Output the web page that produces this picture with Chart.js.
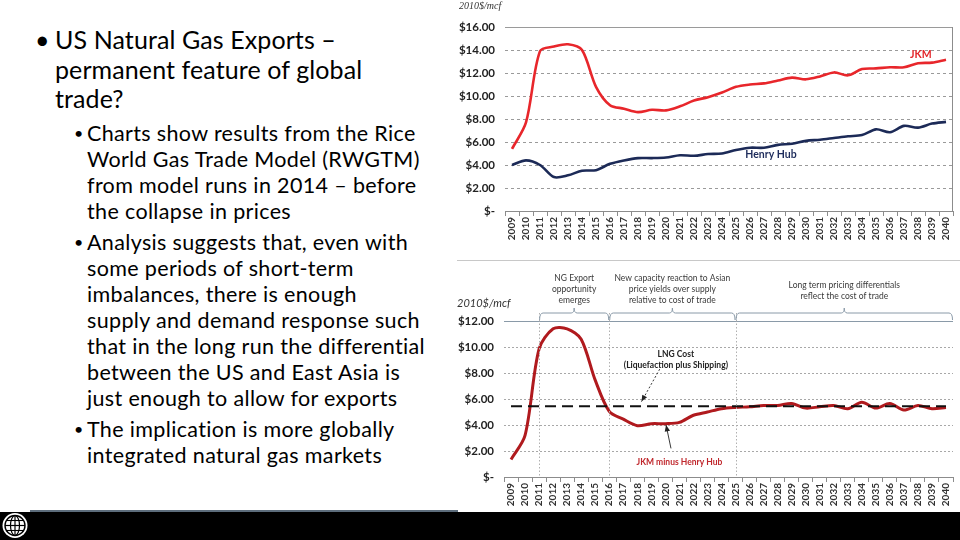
<!DOCTYPE html>
<html><head><meta charset="utf-8">
<script src="https://cdn.jsdelivr.net/npm/chart.js@4/dist/chart.umd.min.js"></script>
<style>
body{margin:0;width:960px;height:540px;background:#fff;position:relative;overflow:hidden;font-family:Lato,"Open Sans",sans-serif;color:#000}
.blk{position:absolute;white-space:nowrap}
.blk .b{position:absolute}
.t1{font-size:25px;line-height:29.5px;left:55px;letter-spacing:0.1px}
.t1 .b{left:-20px}
.t2{font-size:21.5px;line-height:26px;left:87px;letter-spacing:0.35px}
.t2 .b{left:-13px;font-size:16px}
canvas{position:absolute}
#topC{left:455px;top:0}
#botC{left:455px;top:255px}
.ytitle{position:absolute;font-style:italic;color:#333}
#sep{position:absolute;left:457px;top:260px;width:503px;height:1px;background:#c8c8c8}
#bar{position:absolute;left:0;top:512px;width:960px;height:28px;background:#000}
#barline{position:absolute;left:30px;top:510px;width:428px;height:2px;background:#5d6d7c}
#logo{position:absolute;left:1px;top:512px}
</style></head>
<body>
<div class="blk t1" style="top:25px"><span class="b">•</span>US Natural Gas Exports –<br>permanent feature of global<br>trade?</div>
<div class="blk t2" style="top:120px"><span class="b">•</span>Charts show results from the Rice<br>World Gas Trade Model (RWGTM)<br>from model runs in 2014 – before<br>the collapse in prices</div>
<div class="blk t2" style="top:229px"><span class="b">•</span>Analysis suggests that, even with<br>some periods of short-term<br>imbalances, there is enough<br>supply and demand response such<br>that in the long run the differential<br>between the US and East Asia is<br>just enough to allow for exports</div>
<div class="blk t2" style="top:416px"><span class="b">•</span>The implication is more globally<br>integrated natural gas markets</div>

<canvas id="topC" width="505" height="245"></canvas>
<div id="sep"></div>
<canvas id="botC" width="505" height="255"></canvas>
<div class="ytitle" style="left:459px;top:0px;font-size:10px;font-family:'Liberation Serif',serif">2010$/mcf</div>
<div class="ytitle" style="left:457px;top:296px;font-size:11px">2010$/mcf</div>

<div id="barline"></div>
<div id="bar"></div>
<svg id="logo" width="30" height="28" viewBox="0 0 30 28">
 <circle cx="14" cy="13.5" r="12.5" fill="#fff"/>
 <circle cx="14" cy="13.5" r="10" fill="none" stroke="#000" stroke-width="1.4"/>
 <ellipse cx="14" cy="13.5" rx="4.5" ry="10" fill="none" stroke="#000" stroke-width="1.2"/>
 <line x1="14" y1="3.5" x2="14" y2="23.5" stroke="#000" stroke-width="1.2"/>
 <line x1="4" y1="13.5" x2="24" y2="13.5" stroke="#000" stroke-width="1.2"/>
 <line x1="5.5" y1="8.5" x2="22.5" y2="8.5" stroke="#000" stroke-width="1.1"/>
 <line x1="5.5" y1="18.5" x2="22.5" y2="18.5" stroke="#000" stroke-width="1.1"/>
</svg>

<script>
const years = ['2009','2010','2011','2012','2013','2014','2015','2016','2017','2018','2019','2020','2021','2022','2023','2024','2025','2026','2027','2028','2029','2030','2031','2032','2033','2034','2035','2036','2037','2038','2039','2040'];
const jkmPrice = [5.4,7.7,13.9,14.3,14.5,14.0,10.8,9.2,8.9,8.6,8.8,8.75,9.1,9.6,9.9,10.3,10.8,11.0,11.1,11.35,11.6,11.45,11.7,12.05,11.8,12.35,12.4,12.5,12.5,12.85,12.9,13.15];
const henryHubPrice = [4.0,4.4,4.0,2.95,3.1,3.5,3.55,4.1,4.4,4.6,4.6,4.65,4.85,4.8,4.95,5.0,5.3,5.5,5.5,5.75,5.85,6.1,6.2,6.35,6.5,6.6,7.1,6.85,7.4,7.25,7.6,7.75];
const jkmMinusHH = [1.35,3.2,9.85,11.4,11.4,10.6,7.45,5.05,4.45,3.95,4.1,4.1,4.2,4.75,5.0,5.25,5.35,5.4,5.5,5.5,5.65,5.3,5.4,5.5,5.25,5.75,5.3,5.65,5.15,5.5,5.25,5.35];
const lngCost = 5.45;
const topTickLabels = ['$-','$2.00','$4.00','$6.00','$8.00','$10.00','$12.00','$14.00','$16.00'];
const botTickLabels = ['$-','$2.00','$4.00','$6.00','$8.00','$10.00','$12.00'];
const phaseStarts = ['2011','2016','2025'];
const phaseTexts = [['NG Export','opportunity','emerges'],['New capacity reaction to Asian','price yields over supply','relative to cost of trade'],['Long term pricing differentials','reflect the cost of trade']];

const lngCostSeries = years.map(() => lngCost);

function arrow(ctx, x1, y1, x2, y2, dash){
  ctx.save();
  ctx.strokeStyle = '#222'; ctx.fillStyle = '#222'; ctx.lineWidth = 0.9;
  ctx.setLineDash(dash || []);
  ctx.beginPath(); ctx.moveTo(x1,y1); ctx.lineTo(x2,y2); ctx.stroke();
  ctx.setLineDash([]);
  const a = Math.atan2(y2-y1, x2-x1), L = 7, w = 0.4;
  ctx.beginPath(); ctx.moveTo(x2,y2);
  ctx.lineTo(x2 - L*Math.cos(a-w), y2 - L*Math.sin(a-w));
  ctx.lineTo(x2 - L*Math.cos(a+w), y2 - L*Math.sin(a+w));
  ctx.closePath(); ctx.fill();
  ctx.restore();
}

function baseOptions(yMax, labels, yWidth, xHeight, padTop){
  return {
    responsive:false, animation:false, devicePixelRatio:1,
    layout:{padding:{top:padTop, right:7, left:0, bottom:0}},
    plugins:{legend:{display:false}, tooltip:{enabled:false}},
    elements:{point:{radius:0}},
    scales:{
      x:{
        offset:true,
        grid:{display:true, drawOnChartArea:false, drawTicks:true, tickLength:5, offset:true, color:'#8c8c8c'},
        border:{display:true, color:'#8c8c8c', width:1},
        ticks:{minRotation:90, maxRotation:90, autoSkip:false, padding:1, color:'#333', font:{family:'Lato', size:10, weight:'bold'}},
        afterFit: s => { s.height = xHeight; }
      },
      y:{
        min:0, max:yMax,
        border:{display:false, dash:[3,3]},
        grid:{color:'#9a9a9a', drawTicks:false, lineWidth:1},
        ticks:{stepSize:2, padding:10, color:'#222', font:{family:'Lato', size:11.5, weight:'bold'},
               callback: v => labels[Math.round(v/2)]},
        afterFit: s => { s.width = yWidth; }
      }
    }
  };
}

const topPlugin = {
  id:'topAnn',
  afterDatasetsDraw(chart){
    const {ctx, chartArea:a, scales:{x,y}} = chart;
    ctx.save();
    ctx.strokeStyle = '#9a9a9a'; ctx.lineWidth = 1;
    ctx.beginPath(); ctx.moveTo(a.left, Math.round(y.getPixelForValue(16))+0.5); ctx.lineTo(a.right, Math.round(y.getPixelForValue(16))+0.5); ctx.stroke();
    ctx.strokeStyle = '#8c8c8c';
    ctx.beginPath(); ctx.moveTo(a.right-0.5, a.top); ctx.lineTo(a.right-0.5, a.bottom); ctx.stroke();
    ctx.textAlign = 'center'; ctx.textBaseline = 'middle';
    ctx.font = 'bold 10.5px Lato';
    ctx.fillStyle = '#e3262b';
    ctx.fillText('JKM', x.getPixelForValue(29.2), y.getPixelForValue(13.6));
    ctx.fillStyle = '#1f2d5c';
    ctx.fillText('Henry Hub', x.getPixelForValue(18.5), y.getPixelForValue(4.9));
    ctx.restore();
  }
};

const botPlugin = {
  id:'botAnn',
  afterDatasetsDraw(chart){
    const {ctx, chartArea:a, scales:{x,y}} = chart;
    ctx.save();
    ctx.strokeStyle = '#8a9aa8'; ctx.lineWidth = 1;
    const ty = Math.round(y.getPixelForValue(12))+0.5;
    ctx.beginPath(); ctx.moveTo(a.left, ty); ctx.lineTo(a.right, ty); ctx.stroke();
    const xs = phaseStarts.map(p => x.getPixelForValue(years.indexOf(p)));
    ctx.strokeStyle = '#b0b0b0'; ctx.setLineDash([1.5,2]);
    xs.forEach(px => { ctx.beginPath(); ctx.moveTo(Math.round(px)+0.5, a.top-8); ctx.lineTo(Math.round(px)+0.5, a.bottom); ctx.stroke(); });
    ctx.setLineDash([]);
    const ends = [[xs[0],xs[1]],[xs[1],xs[2]],[xs[2],a.right]];
    const by = a.top - 8;
    ctx.strokeStyle = '#8a9aa8'; ctx.lineWidth = 1;
    ends.forEach(([x1,x2]) => {
      const xc = (x1+x2)/2;
      ctx.beginPath();
      ctx.moveTo(x1+0.5, a.top-1);
      ctx.quadraticCurveTo(x1+0.5, by, x1+4, by);
      ctx.lineTo(xc-3, by);
      ctx.quadraticCurveTo(xc, by, xc, by-5);
      ctx.quadraticCurveTo(xc, by, xc+3, by);
      ctx.lineTo(x2-4, by);
      ctx.quadraticCurveTo(x2-0.5, by, x2-0.5, a.top-1);
      ctx.stroke();
    });
    ctx.fillStyle = '#3a3a3a'; ctx.font = '8.5px Lato';
    ctx.textAlign = 'center'; ctx.textBaseline = 'middle';
    phaseTexts.forEach((lines, i) => {
      const xc = (ends[i][0]+ends[i][1])/2;
      const off = lines.length === 3 ? [43,32,21] : [36,25];
      lines.forEach((t, j) => ctx.fillText(t, xc, a.top - off[j]));
    });
    ctx.fillStyle = '#222'; ctx.font = 'bold 8.5px Lato';
    ctx.fillText('LNG Cost', x.getPixelForValue(11.75), y.getPixelForValue(9.44));
    ctx.fillText('(Liquefaction plus Shipping)', x.getPixelForValue(11.75), y.getPixelForValue(8.6));
    arrow(ctx, x.getPixelForValue(10.6), y.getPixelForValue(8.3), x.getPixelForValue(9.3), y.getPixelForValue(5.8), [2,2]);
    ctx.fillStyle = '#c0282d'; ctx.font = 'bold 8.5px Lato';
    ctx.fillText('JKM minus Henry Hub', x.getPixelForValue(12.0), y.getPixelForValue(1.15));
    arrow(ctx, x.getPixelForValue(11.4), y.getPixelForValue(2.2), x.getPixelForValue(11.05), y.getPixelForValue(4.0));
    ctx.restore();
  }
};

const topOpts = baseOptions(16, topTickLabels, 50, 34, 27);
new Chart(document.getElementById('topC'), {
  type:'line',
  data:{labels:years, datasets:[
    {label:'JKM', data:jkmPrice, borderColor:'#e8262b', borderWidth:2.6, tension:0.3, fill:false},
    {label:'Henry Hub', data:henryHubPrice, borderColor:'#1c2a57', borderWidth:2.6, tension:0.3, fill:false}
  ]},
  options:topOpts,
  plugins:[topPlugin]
});

const botOpts = baseOptions(12, botTickLabels, 49, 33, 66);
botOpts.scales.y.border.dash = [2,2];
botOpts.scales.y.grid.color = '#a8a8a8';
new Chart(document.getElementById('botC'), {
  type:'line',
  data:{labels:years, datasets:[
    {label:'LNG Cost', data:lngCostSeries, borderColor:'#111', borderWidth:2, borderDash:[11,6], fill:false, tension:0},
    {label:'JKM minus Henry Hub', data:jkmMinusHH, borderColor:'#b01a1e', borderWidth:3, tension:0.3, fill:false}
  ]},
  options:botOpts,
  plugins:[botPlugin]
});
</script>
</body></html>
